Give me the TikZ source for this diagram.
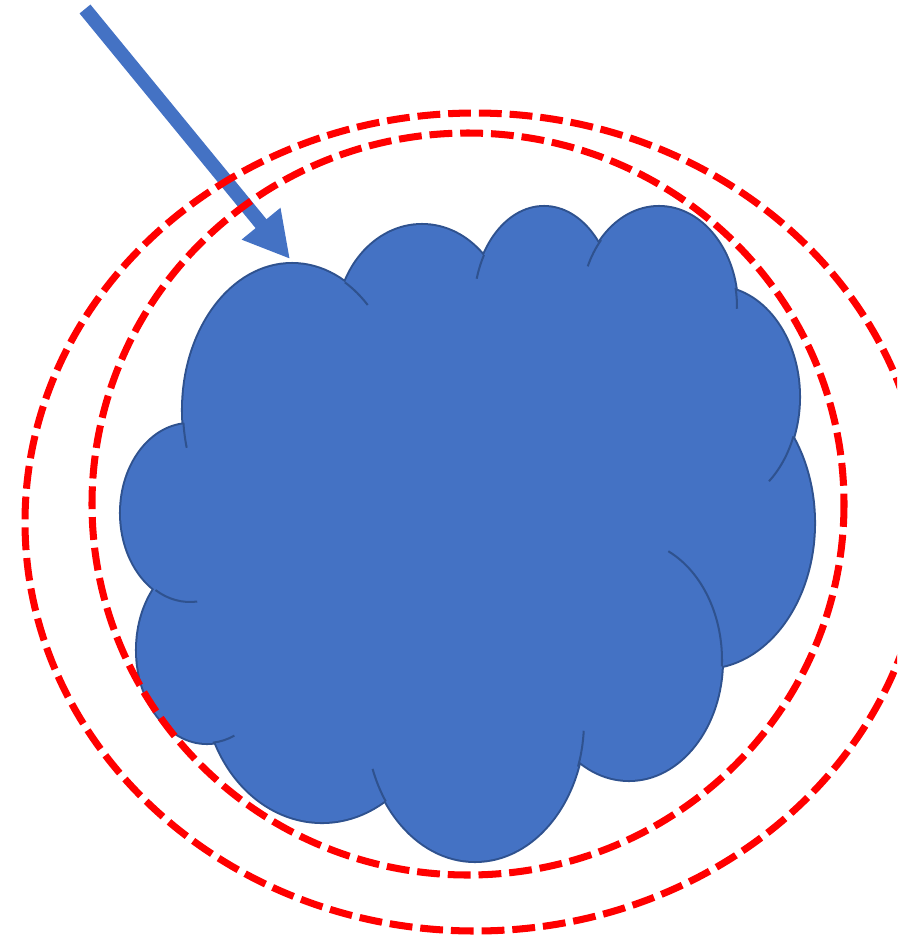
\documentclass[tikz,border=0pt]{standalone}
\usetikzlibrary{arrows.meta}
\definecolor{cloudblue}{HTML}{4472C4}
\definecolor{cloudedge}{HTML}{2F528F}
\newcommand*{\lobes}{292/410/109/146, 422/325/85/100, 544/306/70/99, 659/307/78/100, 715/397/84/110, 704/523/110/145, 629/660/93/120, 475/721/109/140, 322/682/118/140, 207/650/70/93, 190/513/69/89}
\newcommand*{\tails}{292/410/109/146/-61/-46, 292/410/109/146/175/165, 544/306/70/99/211/196, 659/307/78/100/222/204, 659/307/78/100/-11/1, 715/397/84/110/21/50, 629/660/93/120/-65/3, 475/721/109/140/19/4, 475/721/109/140/145/160, 207/650/70/93/85/67, 190/513/69/89/120/84}

\begin{document}
\begin{tikzpicture}
[
	x=0.02cm, y=-0.02cm,
	lobeedge/.style={draw=cloudedge,fill=cloudblue,line width=2.3pt},
	lobefill/.style={fill=cloudblue},
	lobetail/.style={draw=cloudedge,line width=1.15pt},
	pointer/.style={draw=cloudblue,line width=8pt,-{Triangle[length=26pt,width=26.6pt]}},
	ring/.style={draw=red,line width=4pt,dash pattern=on 13pt off 4.5pt}
]

	\useasboundingbox (0,0) rectangle (897,940);
	\clip (0,0) rectangle (897,940);

	% cloud lobes: edge first, then fill over the inner halves
	\foreach \cx/\cy/\rx/\ry in \lobes
		\path[lobeedge] (\cx,\cy) ellipse[x radius=\rx, y radius=\ry];
	\foreach \cx/\cy/\rx/\ry in \lobes
		\path[lobefill] (\cx,\cy) ellipse[x radius=\rx, y radius=\ry];
	\path[lobefill] (475,520) ellipse[x radius=270, y radius=240];

	% short inner arcs where the lobes meet
	\foreach \cx/\cy/\rx/\ry/\ta/\tb in \tails
		\draw[lobetail] (\cx,\cy) ++(\ta:{\rx} and {\ry}) arc[start angle=\ta, end angle=\tb, x radius=\rx, y radius=\ry];

	% arrow
	\coordinate (arrowstart) at (85,9);
	\coordinate (arrowtip) at (290,259);
	\draw[pointer] (arrowstart) -- (arrowtip);

	% dashed rings
	\draw[ring] (475,522) ellipse[x radius=450, y radius=409];
	\draw[ring] (468,504) ellipse[x radius=376, y radius=371];

\end{tikzpicture}
\end{document}
